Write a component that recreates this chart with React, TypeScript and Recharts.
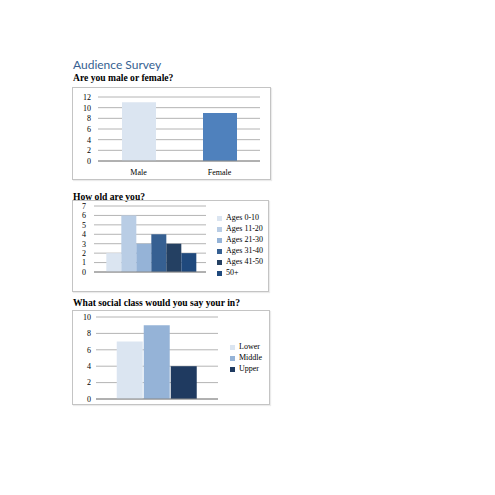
import { BarChart, Bar, XAxis, YAxis, CartesianGrid, Legend, Cell } from "recharts";

const genderCategories = ["Male", "Female"];
const genderCounts = [11, 9];
const genderColors = ["#dbe5f1", "#4f81bd"];
const genderTicks = [0, 2, 4, 6, 8, 10, 12];

const ageGroups = ["Ages 0-10", "Ages 11-20", "Ages 21-30", "Ages 31-40", "Ages 41-50", "50+"];
const ageCounts = [2, 6, 3, 4, 3, 2];
const ageColors = ["#dbe5f1", "#b9cde5", "#95b3d7", "#366092", "#244062", "#1f497d"];
const ageTicks = [0, 1, 2, 3, 4, 5, 6, 7];

const classGroups = ["Lower", "Middle", "Upper"];
const classCounts = [7, 9, 4];
const classColors = ["#dbe5f1", "#95b3d7", "#1f3a60"];
const classTicks = [0, 2, 4, 6, 8, 10];

const serif = "'Liberation Serif', serif";
const tickStyle = { fontSize: 8, fill: "#000", fontFamily: serif };
const gridColor = "#b4b4b4";

const genderData = genderCategories.map((name, i) => ({ name, value: genderCounts[i], color: genderColors[i] }));

// one category, one series per group (so the legend lists each group)
const ageRow: Record<string, number | string> = { name: "" };
ageGroups.forEach((g, i) => (ageRow[g] = ageCounts[i]));
const ageData = [ageRow];

const classRow: Record<string, number | string> = { name: "" };
classGroups.forEach((g, i) => (classRow[g] = classCounts[i]));
const classData = [classRow];

const boxStyle = (left: number, top: number, width: number, height: number): React.CSSProperties => ({
  position: "absolute",
  left,
  top,
  width,
  height,
  border: "1px solid #c4c4c4",
  boxSizing: "border-box",
  boxShadow: "1px 1px 1px rgba(0,0,0,0.08)",
});

const headingStyle = (top: number): React.CSSProperties => ({
  position: "absolute",
  left: 73,
  top,
  fontFamily: serif,
  fontWeight: "bold",
  fontSize: 9.6,
  lineHeight: "10px",
  color: "#000",
  whiteSpace: "nowrap",
});

const legendWrap = (left: number, top: number): React.CSSProperties => ({
  left,
  top,
  width: 60,
  whiteSpace: "nowrap",
  fontSize: 8,
  lineHeight: "11px",
  fontFamily: serif,
});

const legendText = (v: string) => <span style={{ color: "#000" }}>{v}</span>;

export default function App() {
  return (
    <div style={{ position: "absolute", left: 0, top: 0, width: 495, height: 495, background: "#fff" }}>
      <div
        style={{
          position: "absolute",
          left: 73,
          top: 59,
          fontFamily: "Lato, sans-serif",
          fontSize: 12,
          lineHeight: "12px",
          color: "#365f91",
          whiteSpace: "nowrap",
        }}
      >
        Audience Survey
      </div>
      <div style={headingStyle(73)}>Are you male or female?</div>

      <div style={boxStyle(72, 87, 199, 93)}>
        <BarChart
          width={197}
          height={91}
          data={genderData}
          margin={{ top: 9, right: 10, left: 0, bottom: 0 }}
          barSize={34}
        >
          <CartesianGrid vertical={false} stroke={gridColor} />
          <XAxis
            dataKey="name"
            height={18}
            tick={tickStyle}
            tickLine={false}
            axisLine={{ stroke: "#888" }}
          />
          <YAxis
            width={25}
            domain={[0, 12]}
            ticks={genderTicks}
            interval={0}
            tick={tickStyle}
            tickLine={false}
            axisLine={false}
            tickSize={0}
            tickMargin={7}
          />
          <Bar dataKey="value" isAnimationActive={false}>
            {genderData.map((d) => (
              <Cell key={d.name} fill={d.color} />
            ))}
          </Bar>
        </BarChart>
      </div>

      <div style={headingStyle(192)}>How old are you?</div>
      <div style={boxStyle(72, 200, 197, 92)}>
        <BarChart
          width={195}
          height={90}
          data={ageData}
          margin={{ top: 5, right: 62, left: 0, bottom: 0 }}
          barGap={0}
          barCategoryGap="11%"
        >
          <CartesianGrid vertical={false} stroke={gridColor} />
          <XAxis dataKey="name" height={19} tick={false} tickLine={false} axisLine={{ stroke: "#888" }} />
          <YAxis
            width={21}
            domain={[0, 7]}
            ticks={ageTicks}
            interval={0}
            tick={tickStyle}
            tickLine={false}
            axisLine={false}
            tickSize={0}
            tickMargin={8}
          />
          <Legend
            layout="vertical"
            align="center"
            verticalAlign="middle"
            iconType="square"
            iconSize={5}
            formatter={legendText}
            itemSorter={(item: any) => ageGroups.indexOf(item.value)}
            wrapperStyle={legendWrap(144, 11)}
          />
          {ageGroups.map((g, i) => (
            <Bar key={g} dataKey={g} fill={ageColors[i]} isAnimationActive={false} />
          ))}
        </BarChart>
      </div>

      <div style={headingStyle(298)}>What social class would you say your in?</div>
      <div style={boxStyle(72, 310, 198, 95)}>
        <BarChart
          width={196}
          height={93}
          data={classData}
          margin={{ top: 6, right: 51, left: 0, bottom: 0 }}
          barGap={1}
          barCategoryGap="17%"
        >
          <CartesianGrid vertical={false} stroke={gridColor} />
          <XAxis dataKey="name" height={5} tick={false} tickLine={false} axisLine={{ stroke: "#888" }} />
          <YAxis
            width={23}
            domain={[0, 10]}
            ticks={classTicks}
            interval={0}
            tick={tickStyle}
            tickLine={false}
            axisLine={false}
            tickSize={0}
            tickMargin={5}
          />
          <Legend
            layout="vertical"
            align="center"
            verticalAlign="middle"
            iconType="square"
            iconSize={5}
            formatter={legendText}
            itemSorter={(item: any) => classGroups.indexOf(item.value)}
            wrapperStyle={legendWrap(157, 30)}
          />
          {classGroups.map((g, i) => (
            <Bar key={g} dataKey={g} fill={classColors[i]} isAnimationActive={false} />
          ))}
        </BarChart>
      </div>
    </div>
  );
}
